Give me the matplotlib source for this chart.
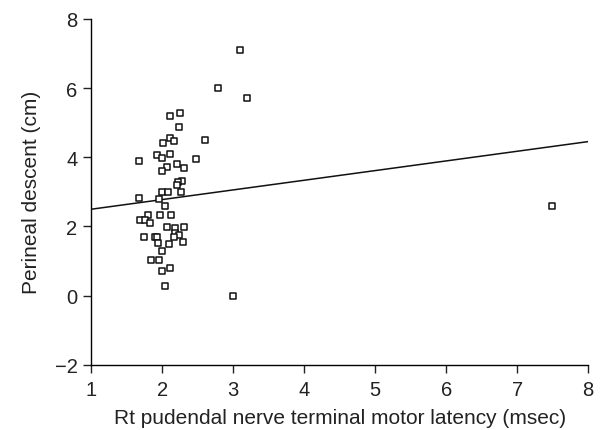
import matplotlib
matplotlib.use("Agg")
import matplotlib.pyplot as plt
import numpy as np

# latency (msec) vs perineal descent (cm)
latency = [3.09, 2.79, 3.20, 2.245, 2.11, 2.23, 2.11, 2.60, 2.16, 2.005,
           1.67, 1.93, 2.11, 2.00, 2.48, 2.20, 2.06, 2.30, 2.00, 2.28,
           2.22, 2.20, 2.00, 2.08, 2.27, 1.67, 1.96, 2.04, 7.49, 1.97,
           2.12, 1.80, 1.68, 1.75, 1.83, 2.065, 2.18, 2.30, 2.18, 2.23,
           1.74, 1.89, 1.93, 2.16, 1.945, 2.10, 2.29, 1.99, 1.84, 1.955,
           2.11, 2.00, 2.04, 3.00]
descent = [7.10, 6.01, 5.71, 5.28, 5.19, 4.88, 4.57, 4.49, 4.47, 4.42,
           3.89, 4.07, 4.09, 3.97, 3.95, 3.81, 3.73, 3.68, 3.61, 3.30,
           3.29, 3.21, 3.01, 2.99, 2.99, 2.82, 2.78, 2.59, 2.58, 2.32,
           2.32, 2.32, 2.20, 2.20, 2.09, 1.99, 1.97, 1.99, 1.81, 1.76,
           1.70, 1.71, 1.71, 1.69, 1.53, 1.48, 1.54, 1.29, 1.02, 1.02,
           0.81, 0.72, 0.28, -0.02]

# regression line as drawn
slope = 0.279
intercept = 2.22
x_range = [1, 8]

plt.rcParams['font.family'] = ['Liberation Sans', 'DejaVu Sans']

fig = plt.figure(figsize=(6.05, 4.31), dpi=100)
ax = fig.add_axes([0.151, 0.151, 0.821, 0.803])

ax.scatter(latency, descent, marker='s', s=22, facecolors='white',
           edgecolors='#111111', linewidths=1.1, zorder=3)
xl = np.array(x_range, dtype=float)
ax.plot(xl, intercept + slope * xl, color='#111111', lw=1.1)

ax.set_xlim(1, 8)
ax.set_ylim(-2, 8)
ax.set_xticks(range(1, 9))
ax.set_yticks([-2, 0, 2, 4, 6, 8])
ax.set_yticklabels(['\u22122', '0', '2', '4', '6', '8'])
for s in ['top', 'right']:
    ax.spines[s].set_visible(False)
for s in ['left', 'bottom']:
    ax.spines[s].set_linewidth(1.0)
ax.tick_params(length=6, width=1.0, labelsize=14.5, colors='#222222')
ax.tick_params(axis='x', pad=5)
ax.tick_params(axis='y', pad=4)

# the original crops the descenders; keep it just inside the frame
ax.set_xlabel('Rt pudendal nerve terminal motor latency (msec)',
              fontsize=15, color='#222222', labelpad=6)
ax.set_ylabel('Perineal descent (cm)', fontsize=15, color='#222222',
              labelpad=10)

fig.savefig('out.png', dpi=100)
